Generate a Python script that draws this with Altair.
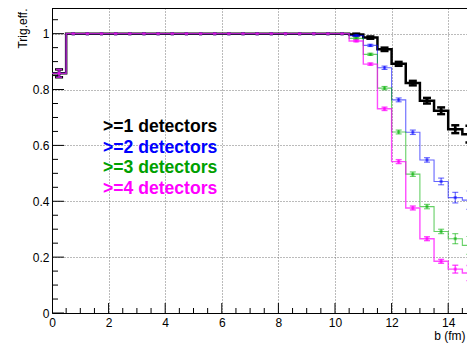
import altair as alt
import pandas as pd

# ---------------- data ----------------
bin_width = 0.5
bin_lo = [i * bin_width for i in range(30)]

labels = [">=1 detectors", ">=2 detectors", ">=3 detectors", ">=4 detectors"]
text_colors = ["#000000", "#0000ff", "#00a000", "#ff00ff"]
line_colors = ["#000000", "#0000ff", "#00b000", "#ff00ff"]

eff_1 = [0.858, 1.0, 1.0, 1.0, 1.0, 1.0, 1.0, 1.0, 1.0, 1.0, 1.0,
         1.0, 1.0, 1.0, 1.0, 1.0, 1.0, 1.0, 1.0, 1.0, 1.0,
         0.997, 0.986, 0.944, 0.892, 0.823, 0.760, 0.724, 0.658, 0.640]
err_1 = [0.014, 0, 0, 0, 0, 0, 0, 0, 0, 0, 0,
         0, 0, 0, 0, 0, 0, 0, 0, 0, 0,
         0.003, 0.004, 0.006, 0.007, 0.008, 0.010, 0.012, 0.014, 0.030]

eff_2 = [0.858, 1.0, 1.0, 1.0, 1.0, 1.0, 1.0, 1.0, 1.0, 1.0, 1.0,
         1.0, 1.0, 1.0, 1.0, 1.0, 1.0, 1.0, 1.0, 1.0, 1.0,
         0.993, 0.958, 0.878, 0.763, 0.647, 0.548, 0.471, 0.413, 0.404]
err_2 = [0.014, 0, 0, 0, 0, 0, 0, 0, 0, 0, 0,
         0, 0, 0, 0, 0, 0, 0, 0, 0, 0,
         0.003, 0.004, 0.006, 0.007, 0.008, 0.008, 0.012, 0.019, 0.033]

eff_3 = [0.858, 1.0, 1.0, 1.0, 1.0, 1.0, 1.0, 1.0, 1.0, 1.0, 1.0,
         1.0, 1.0, 1.0, 1.0, 1.0, 1.0, 1.0, 1.0, 1.0, 1.0,
         0.983, 0.926, 0.805, 0.648, 0.497, 0.381, 0.292, 0.266, 0.242]
err_3 = [0.014, 0, 0, 0, 0, 0, 0, 0, 0, 0, 0,
         0, 0, 0, 0, 0, 0, 0, 0, 0, 0,
         0.003, 0.004, 0.006, 0.007, 0.008, 0.008, 0.008, 0.018, 0.032]

eff_4 = [0.858, 1.0, 1.0, 1.0, 1.0, 1.0, 1.0, 1.0, 1.0, 1.0, 1.0,
         1.0, 1.0, 1.0, 1.0, 1.0, 1.0, 1.0, 1.0, 1.0, 1.0,
         0.974, 0.891, 0.731, 0.542, 0.376, 0.266, 0.185, 0.157, 0.143]
err_4 = [0.014, 0, 0, 0, 0, 0, 0, 0, 0, 0, 0,
         0, 0, 0, 0, 0, 0, 0, 0, 0, 0,
         0.003, 0.004, 0.006, 0.007, 0.007, 0.007, 0.007, 0.014, 0.027]

x_major = [0, 2, 4, 6, 8, 10, 12, 14]
y_major = [0, 0.2, 0.4, 0.6, 0.8, 1.0]

# ---------------- layout ----------------
W, H = 415, 305
FONT = "Liberation Sans"
xs = alt.Scale(domain=[0, W / 28.3], nice=False, zero=False)
ys = alt.Scale(domain=[0, 1.0919], nice=False, zero=False)

x_axis = alt.Axis(values=x_major, ticks=False, grid=True, gridDash=[1, 2], gridColor="#777777",
                  gridWidth=1, domain=True, domainColor="#000000", domainWidth=1,
                  labelFont=FONT, labelFontSize=12, labelColor="#000000", labelPadding=4,
                  format="~g", labelOverlap=False, labelFlush=False,
                  title="b (fm)", titleFont=FONT, titleFontSize=12, titleFontWeight="normal",
                  titleColor="#000000", titleAlign="right", titleBaseline="alphabetic",
                  titleX=W - 2, titleY=26, titleAnchor="end")
y_axis = alt.Axis(values=y_major, ticks=False, grid=True, gridDash=[1, 2], gridColor="#777777",
                  gridWidth=1, domain=True, domainColor="#000000", domainWidth=1,
                  labelFont=FONT, labelFontSize=12, labelColor="#000000", labelPadding=3,
                  format="~g", labelOverlap=False, labelFlush=False,
                  title="Trig.eff.", titleFont=FONT, titleFontSize=12, titleFontWeight="normal",
                  titleColor="#000000", titleAngle=270, titleAlign="right",
                  titleBaseline="alphabetic", titleX=-26, titleY=0)


def X(field):
    return alt.X(field, scale=xs, axis=x_axis)


def Y(field):
    return alt.Y(field, scale=ys, axis=y_axis)


layers = []

# inward ticks (ROOT style)
x_minor = [v * 0.5 for v in range(30) if (v * 0.5) not in x_major]
y_minor = [round(v * 0.05, 2) for v in range(22) if round(v * 0.05, 2) not in y_major]


def xticks(vals, length):
    return alt.Chart(pd.DataFrame({"b": vals})).mark_rule(color="#000000", strokeWidth=1, clip=True).encode(
        x=X("b:Q"), y=alt.value(H), y2=alt.value(H - length))


def yticks(vals, length):
    return alt.Chart(pd.DataFrame({"eff": vals})).mark_rule(color="#000000", strokeWidth=1).encode(
        y=Y("eff:Q"), x=alt.value(0), x2=alt.value(length))


layers += [xticks(x_major, 10), xticks(x_minor, 5), yticks(y_major, 12), yticks(y_minor, 6)]

# top frame line
frame_df = pd.DataFrame({"b": [0.0]})
layers.append(alt.Chart(frame_df).mark_rule(color="#000000", strokeWidth=1).encode(
    x=alt.value(0), x2=alt.value(W), y=alt.value(0.5)))


def series(vals, errs, color, lw, op, cap):
    step_df = pd.DataFrame({"b": bin_lo + [bin_lo[-1] + bin_width], "eff": vals + [vals[-1]]})
    pts = pd.DataFrame({"b": [lo + bin_width / 2 for lo in bin_lo], "eff": vals, "err": errs})
    pts["lo"] = pts["eff"] - pts["err"]
    pts["hi"] = pts["eff"] + pts["err"]
    ebars = pts[pts["err"] > 0]
    out = []
    out.append(alt.Chart(step_df).mark_line(interpolate="step-after", color=color, strokeWidth=lw,
                                            opacity=op, clip=True).encode(x=X("b:Q"), y=Y("eff:Q")))
    out.append(alt.Chart(ebars).mark_rule(color=color, strokeWidth=lw, opacity=op, clip=True).encode(
        x=X("b:Q"), y=Y("lo:Q"), y2="hi:Q"))
    for fld in ["lo", "hi"]:
        out.append(alt.Chart(ebars).mark_tick(orient="horizontal", color=color, size=cap,
                                              thickness=lw, opacity=op, clip=True).encode(
            x=X("b:Q"), y=Y(f"{fld}:Q")))
    out.append(alt.Chart(pts).mark_square(color=color, size=10, opacity=op * 0.8, clip=True).encode(
        x=X("b:Q"), y=Y("eff:Q")))
    return out


layers += series(eff_1, err_1, line_colors[0], 2.5, 1.0, 8)
layers += series(eff_2, err_2, line_colors[1], 1.1, 0.6, 6)
layers += series(eff_3, err_3, line_colors[2], 1.1, 0.6, 6)
layers += series(eff_4, err_4, line_colors[3], 1.4, 0.7, 6)

# legend texts
for i, (lab, col) in enumerate(zip(labels, text_colors)):
    layers.append(alt.Chart(frame_df).mark_text(text=lab, color=col, font=FONT, fontSize=17.6,
                                                fontWeight="bold", align="left",
                                                baseline="alphabetic").encode(
        x=alt.datum(1.8, scale=xs, axis=x_axis), y=alt.datum(0.647 - i * 0.0735, scale=ys, axis=y_axis)))

chart = alt.layer(*layers).properties(
    width=W, height=H,
    autosize=alt.AutoSizeParams(type="none"),
    padding={"left": 44, "top": 0, "right": 0, "bottom": 32},
).configure_view(stroke=None).configure(background="white")

chart.save("out.html", embed_options={"renderer": "svg", "actions": False})
